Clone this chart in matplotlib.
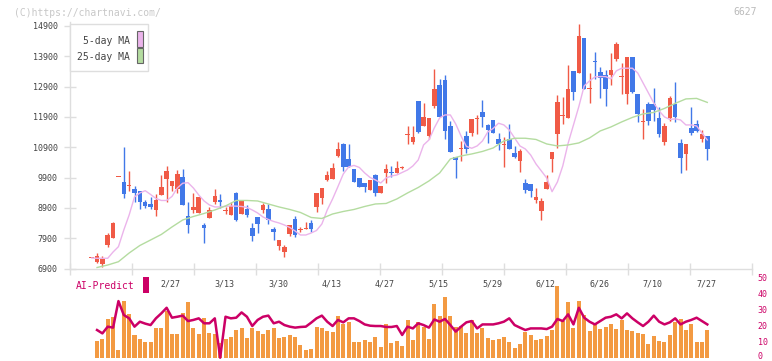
import numpy as np
import matplotlib
matplotlib.use("Agg")
import matplotlib.pyplot as plt
from matplotlib.patches import Rectangle
from matplotlib.transforms import ScaledTranslation

#---------- DATA ----------
opens = [7245, 7124, 7060, 7675, 7917, 9905, 9765, 9630, 9524, 9458,
         9104, 9029, 8840, 9325, 9844, 9632, 9514, 9920, 8633, 8830,
         8742, 8345, 8577, 9094, 9160, 8790, 8675, 9391, 8698, 8873,
         8224, 8600, 8830, 8864, 8203, 7652, 7445, 8040, 8533, 8160,
         8194, 8400, 8940, 9236, 9820, 9863, 10612, 11009, 10504, 10183,
         9886, 9712, 9490, 9986, 9400, 10042, 10085, 10061, 10230, 11295,
         11084, 12427, 11603, 11282, 12263, 12956, 13121, 11603, 10580, 10834,
         11273, 11382, 11847, 12075, 11636, 11800, 11164, 10965, 11174, 10712,
         10457, 9722, 9688, 9160, 8807, 9533, 10523, 11329, 11922, 11877,
         13417, 13361, 14506, 12804, 13715, 13375, 13286, 13286, 13814, 13200,
         12670, 13880, 12659, 11724, 12328, 12328, 11877, 11084, 11877, 12328,
         11042, 10679, 11537, 11660, 11184, 11273]
highs = [7260, 7420, 7310, 8060, 8420, 9910, 10920, 10120, 9620, 9460,
         9160, 9270, 9358, 9990, 10290, 9788, 10140, 10173, 9104, 9381,
         9260, 8400, 8939, 9523, 9368, 8920, 9085, 9424, 9160, 8995,
         8390, 8600, 9050, 9038, 8280, 7850, 7665, 8335, 8632, 8280,
         8435, 8490, 9390, 9556, 10127, 10390, 11075, 11041, 11008, 10183,
         9886, 9730, 9820, 10020, 9622, 10340, 10282, 10447, 10282, 11612,
         11600, 12427, 12352, 11857, 13483, 13154, 13286, 11768, 10580, 11108,
         11438, 11834, 11966, 12460, 11668, 11800, 11362, 11230, 11668, 10953,
         10843, 9854, 9688, 9556, 9217, 9986, 10745, 12625, 12549, 13616,
         13417, 14968, 14506, 13342, 14035, 13559, 13450, 14014, 14365, 13672,
         13880, 13880, 12659, 12163, 12395, 12846, 12220, 11690, 12593, 13055,
         11174, 11009, 12230, 11800, 11470, 11273]
lows = [7240, 7090, 6960, 7610, 7900, 9910, 9236, 9460, 9100, 8870,
        8906, 8864, 8642, 9320, 9100, 9458, 9401, 9005, 8072, 8722,
        8740, 7747, 8557, 9018, 8906, 8700, 8675, 8477, 8698, 8590,
        7817, 8081, 8741, 8369, 7840, 7520, 7290, 7970, 7950, 8095,
        8194, 8095, 8775, 9030, 9790, 9863, 10590, 10117, 10260, 9764,
        9580, 9434, 9490, 9290, 9400, 9712, 9910, 10061, 10183, 10999,
        10999, 11382, 11603, 11174, 12187, 11910, 11174, 10754, 9877, 10457,
        10702, 11273, 11329, 11580, 11052, 11362, 10810, 10260, 10853, 10557,
        10095, 9381, 9270, 9071, 8500, 9533, 10095, 10887, 11660, 11877,
        12460, 13361, 12824, 12371, 13154, 12536, 12272, 12956, 13757, 12670,
        12338, 12680, 11745, 11183, 11645, 11777, 11230, 10976, 11768, 11745,
        10063, 10160, 11315, 11405, 11084, 10480]
closes = [7250, 7312, 7220, 8005, 8392, 9910, 9350, 9650, 9400, 9104,
          8972, 8939, 9160, 9590, 10118, 9788, 10028, 9005, 8345, 8918,
          9260, 8246, 8820, 9292, 9104, 8800, 8962, 8500, 9160, 8665,
          7982, 8378, 8995, 8490, 8115, 7850, 7610, 8335, 8005, 8170,
          8246, 8194, 9390, 9556, 9976, 10216, 10844, 10260, 10260, 9764,
          9580, 9580, 9820, 9400, 9622, 10173, 10060, 10226, 10240, 11305,
          11240, 11414, 11900, 11857, 12824, 11910, 11447, 10754, 10471, 10844,
          10844, 11834, 11857, 11910, 11470, 11362, 11008, 10975, 10853, 10580,
          10787, 9490, 9467, 9260, 9127, 9754, 10745, 12395, 11932, 12823,
          12734, 14572, 12824, 12814, 13705, 13197, 12824, 13450, 14308, 13210,
          13880, 12715, 12009, 11734, 11777, 12140, 11338, 11603, 12527, 11900,
          10557, 11009, 11372, 11438, 11339, 10853]

ma5 = [7247, 7237, 7237, 7237, 7445, 7620, 8170, 8666, 9260, 9391,
       9467, 9342, 9210, 9144, 9144, 9276, 9556, 9712, 9731, 9556,
       9325, 9127, 8995, 8930, 8930, 8953, 8962, 8956, 8946, 8913,
       8830, 8731, 8600, 8517, 8451, 8401, 8335, 8253, 8137, 8005,
       8005, 8071, 8154, 8368, 8830, 9193, 9600, 10018, 10250, 10300,
       10233, 10051, 9903, 9820, 9721, 9886, 9952, 9985, 10068, 10150,
       10282, 10480, 10975, 11140, 11536, 11866, 11965, 11965, 11668, 11272,
       10926, 10866, 10942, 11107, 11404, 11520, 11692, 11635, 11470, 11206,
       10942, 10843, 10645, 10348, 10117, 9886, 9434, 9754, 10282, 11031,
       11635, 12240, 12922, 13087, 13220, 13230, 13230, 13153, 13417, 13506,
       13506, 13506, 13351, 13021, 12691, 12361, 12097, 11900, 11817, 11834,
       11800, 11635, 11635, 11602, 11371, 11140]
ma25_idx = list(range(1, 116, 2))#25-day MA read every second day
ma25 = [6933, 7015, 7124, 7411, 7659, 7840, 8022, 8270, 8500, 8616,
        8715, 8830, 8962, 9144, 9144, 9127, 9028, 8930, 8847, 8748,
        8583, 8550, 8698, 8781, 8847, 8946, 9028, 9045, 9193, 9391,
        9572, 9787, 10051, 10513, 10612, 10678, 10761, 10876, 11107, 11196,
        11196, 11156, 11008, 10942, 10975, 11041, 11206, 11437, 11569, 11734,
        11883, 11998, 12048, 12180, 12345, 12493, 12510, 12378]

#AI-Predict panel, starts at day 1
ai_bars = [10.4, 11.7, 24.4, 25.4, 4.8, 35.4, 27.3, 14.2, 11.7, 9.8,
           9.8, 18.8, 18.8, 29.0, 14.8, 14.8, 27.7, 34.8, 18.8, 14.8,
           25.0, 15.4, 14.8, 9.0, 11.7, 12.9, 17.3, 18.8, 12.3, 18.8,
           16.7, 14.8, 17.3, 18.8, 12.3, 12.9, 14.2, 12.9, 7.9, 4.8,
           5.4, 19.4, 18.8, 16.7, 16.0, 26.0, 21.2, 22.3, 9.8, 9.8,
           11.0, 9.8, 12.9, 6.7, 21.2, 9.2, 10.4, 7.5, 23.6, 11.0,
           22.1, 19.0, 11.7, 33.6, 26.1, 38.0, 26.1, 19.0, 19.8, 15.4,
           23.6, 15.4, 18.8, 12.3, 11.0, 11.7, 13.2, 9.8, 6.1, 8.6,
           16.3, 14.2, 11.0, 11.7, 13.6, 17.3, 44.8, 23.0, 34.8, 18.8,
           35.4, 26.7, 16.7, 21.1, 18.0, 19.2, 21.1, 18.0, 23.8, 17.3,
           16.7, 15.4, 14.6, 8.6, 13.6, 10.7, 9.8, 14.2, 22.5, 24.2,
           17.3, 21.1, 9.8, 9.8, 17.3]
ai_line = [17.3, 15.2, 19.4, 18.8, 35.4, 26.7, 24.6, 19.4, 22.5, 21.3,
           20.4, 24.6, 27.7, 31.2, 25.0, 25.6, 26.3, 22.9, 23.6, 24.6,
           21.5, 21.5, 24.6, 0.0, 25.6, 24.6, 25.0, 28.3, 25.6, 19.8,
           23.6, 25.6, 26.3, 21.5, 22.5, 20.4, 19.4, 18.8, 19.2, 19.4,
           21.9, 24.6, 26.3, 22.5, 19.8, 23.6, 22.1, 24.6, 24.6, 22.9,
           20.8, 20.0, 19.8, 19.8, 19.2, 19.2, 19.8, 14.2, 19.4, 18.3,
           21.5, 20.4, 18.8, 23.9, 22.5, 24.2, 20.4, 16.3, 19.4, 22.1,
           22.9, 18.3, 20.8, 20.8, 20.8, 21.5, 22.5, 24.6, 20.4, 18.8,
           17.3, 18.3, 18.3, 18.3, 17.9, 19.4, 24.2, 22.9, 27.1, 20.8,
           31.2, 25.0, 22.5, 20.8, 22.9, 25.0, 25.6, 27.1, 24.6, 27.7,
           24.6, 22.1, 19.8, 22.5, 26.3, 22.5, 20.8, 22.1, 24.6, 20.8,
           22.5, 23.6, 25.0, 22.9, 20.8]

date_labels = ["2/27", "3/13", "3/30", "4/13", "4/27", "5/15", "5/29", "6/12", "6/26", "7/10", "7/27"]
date_idx = [15, 25, 35, 45, 55, 65, 75, 85, 95, 105, 115]
price_ticks = [6900, 7900, 8900, 9900, 10900, 11900, 12900, 13900, 14900]
ai_ticks = [0, 10, 20, 30, 40, 50]

#---------- STYLE ----------
W, H = 772, 361
mono = "DejaVu Sans Mono"
up_col = "#f05a46"
down_col = "#4178e8"
pink = "#ebb4eb"
green = "#b4dca0"
magenta = "#cc0066"
orange = "#f39a42"
axis_col = "#dedede"
xmin, xmax = -4.05, 123.35

def px(x, y):#pixel -> figure fraction
    return x / W, 1 - y / H

fig = plt.figure(figsize=(W / 100, H / 100), dpi=100)

#---------- MAIN CANDLE PANEL ----------
ax = fig.add_axes([70 / W, (H - 268.5) / H, 682 / W, (268.5 - 22) / H])
n = len(closes)
idx = np.arange(n)
o = np.array(opens); c = np.array(closes)
colors = [up_col if c[i] >= o[i] else down_col for i in range(n)]
bottoms = np.minimum(o, c)
heights = np.maximum(np.abs(c - o), 33)#at least one pixel

ax.vlines(idx, lows, highs, colors=colors, linewidth=1, zorder=2)
ax.bar(idx, heights, bottom=bottoms, width=0.85, color=colors, linewidth=0, zorder=3)
ax.plot(idx, ma5, color=pink, linewidth=1, zorder=4)
ax.plot(ma25_idx, ma25, color=green, linewidth=1, zorder=4)

ax.set_xlim(xmin, xmax)
ax.set_ylim(6900, 15030)
ax.set_yticks(price_ticks)
ax.set_yticklabels([str(t) for t in price_ticks], family=mono, fontsize=6, color="#444444")
ax.set_xticks(np.linspace(xmin, xmax, 12))
ax.set_xticklabels([])
ax.tick_params(axis="both", direction="inout", length=8, width=1, color=axis_col)
ax.tick_params(axis="y", pad=5)
for s in ["top", "right"]:
    ax.spines[s].set_visible(False)
for s in ["left", "bottom"]:
    ax.spines[s].set_color(axis_col)
    ax.spines[s].set_linewidth(1)

#date labels between panels
for i, lab in zip(date_idx, date_labels):
    ax.text(i - 0.2, (268.5 - 284) / 246.5, lab, transform=ax.get_xaxis_transform(),
            ha="center", va="center", family=mono, fontsize=6, color="#444444")

#---------- AI-PREDICT PANEL ----------
ax2 = fig.add_axes([70 / W, (H - 357.7) / H, 682 / W, 80 / H])
bar_idx = np.arange(1, len(ai_bars) + 1)
ax2.bar(bar_idx, ai_bars, width=0.75, color=orange, linewidth=0, zorder=2)
ax2.plot(bar_idx, ai_line, color=magenta, linewidth=1.8, zorder=3, clip_on=False)
ax2.set_xlim(xmin, xmax)
ax2.set_ylim(0, 50)
ax2.set_xticks([])
ax2.yaxis.tick_right()
ax2.set_yticks(ai_ticks)
ax2.set_yticklabels([str(t) for t in ai_ticks], family=mono, fontsize=6, color=magenta)
ax2.tick_params(axis="y", length=0, pad=4)
#keep the "0" label inside the picture
lbl0 = ax2.get_yticklabels()[0]
lbl0.set_transform(lbl0.get_transform() + ScaledTranslation(0, 2 / 100, fig.dpi_scale_trans))
for s in ax2.spines.values():
    s.set_visible(False)
ax2.patch.set_alpha(0)

#---------- LEGEND BOX ----------
x0, y0 = px(70, 71)
fig.add_artist(Rectangle((x0, y0), 78 / W, 47 / H, transform=fig.transFigure,
                         facecolor="white", edgecolor=axis_col, linewidth=1, zorder=10))
for label, col, ty, sy in [("5-day MA", pink, 40.7, 31.5), ("25-day MA", green, 57.3, 48.3)]:
    tx, tyf = px(130, ty)
    fig.text(tx, tyf, label, ha="right", va="center", family=mono, fontsize=7, color="#444444", zorder=11)
    rx, ry = px(136.5, sy + 15)
    fig.add_artist(Rectangle((rx, ry), 6 / W, 15 / H, transform=fig.transFigure,
                             facecolor=col, edgecolor="#666666", linewidth=0.8, zorder=11))

#AI-Predict title and swatch
tx, ty = px(76, 286)
fig.text(tx, ty, "AI-Predict", ha="left", va="center", family=mono, fontsize=7, color=magenta)
rx, ry = px(142.5, 292.7)
fig.add_artist(Rectangle((rx, ry), 6 / W, 15.7 / H, transform=fig.transFigure,
                         facecolor=magenta, edgecolor="none"))

#watermark and code
tx, ty = px(14, 12.5)
fig.text(tx, ty, "(C)https://chartnavi.com/", ha="left", va="center", family=mono, fontsize=7, color="#c8c8c8")
tx, ty = px(757, 12)
fig.text(tx, ty, "6627", ha="right", va="center", family=mono, fontsize=7, color="#bbbbbb")

fig.savefig("out.png", dpi=100)
